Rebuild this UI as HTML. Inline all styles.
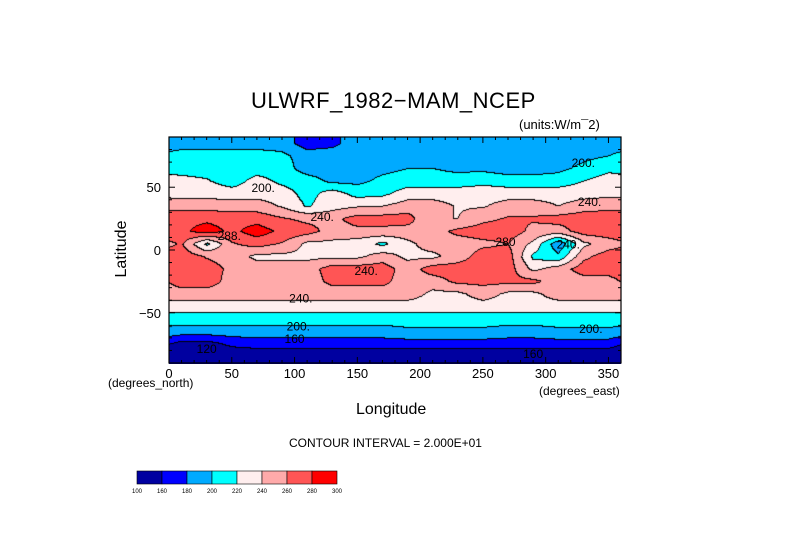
<!DOCTYPE html>
<html><head><meta charset="utf-8">
<style>
html,body{margin:0;padding:0;background:#fff;}
#wrap{position:relative;width:789px;height:558px;overflow:hidden;font-family:"Liberation Sans",sans-serif;color:#000;}
.t{position:absolute;white-space:nowrap;}
canvas{position:absolute;}
</style></head>
<body>
<div id="wrap">
<div class="t" style="left:251px;top:88px;font-size:22px;letter-spacing:0.5px;">ULWRF_1982−MAM_NCEP</div>
<div class="t" style="left:519px;top:117px;font-size:13px;">(units:W/m¯2)</div>
<canvas id="map" width="452" height="227" style="left:169px;top:137px;"></canvas>
<svg id="axes" width="789" height="558" style="position:absolute;left:0;top:0;"></svg>
<div class="t" style="left:92px;top:240px;font-size:16px;transform:rotate(-90deg);transform-origin:center;width:60px;text-align:center;">Latitude</div>
<div class="t" style="left:108px;top:376px;font-size:12px;">(degrees_north)</div>
<div class="t" style="left:539px;top:384px;font-size:12px;">(degrees_east)</div>
<div class="t" style="left:356px;top:401px;font-size:16px;">Longitude</div>
<div class="t" style="left:289px;top:436px;font-size:12px;">CONTOUR INTERVAL = 2.000E+01</div>
</div>
<script>
const levels=[160,180,200,220,240,260,280];
const colors=["#0000a0","#0000ff","#00aaff","#00ffff","#ffeeee","#ffaaaa","#ff5555","#ff0000"];
const cbLabels=["100","160","180","200","220","240","260","280","300"];
const lonCenters=[10,30,50,70,90,110,130,150,170,190,210,230,250,270,290,310,330,350];
const latCenters=[85,75,65,55,45,35,25,15,5,-5,-15,-25,-35,-45,-55,-65,-75,-85];
const r85=[190,190,190,190,190,170,175,190,190,190,190,190,190,190,190,180,190,190];
const r75=[210,210,210,210,205,190,190,190,190,190,190,190,190,190,190,190,195,200];
const r65=[210,210,210,210,210,190,190,190,195,200,200,195,195,190,190,195,205,215];
const r55=[228,222,210,228,215,210,195,195,205,210,210,210,215,210,210,210,220,230];
const r45=[232,232,230,232,230,212,230,212,215,230,230,230,230,230,230,230,232,235];
const r35=[252,252,250,250,238,218,232,238,240,250,250,238,238,250,250,240,250,252];
const r25=[275,275,272,272,262,255,255,268,268,268,240,240,255,262,262,268,272,275];
const r15=[275,290,275,290,275,268,252,255,255,252,252,265,270,270,255,250,270,272];
const r5=[262,215,258,268,258,235,235,230,215,235,250,250,255,260,235,185,235,250];
const rm5=[272,258,250,235,235,235,235,235,250,235,235,250,270,270,215,205,255,270];
const rm15=[272,270,255,250,250,250,270,270,270,250,270,270,270,270,235,250,270,270];
const rm25=[270,270,252,250,250,250,265,265,265,250,250,265,265,265,265,250,250,252];
const rm35=[250,250,250,250,250,250,250,250,250,250,235,235,250,235,235,250,250,250];
const rm45=[230,230,230,230,230,230,230,230,230,230,230,230,230,230,230,230,230,230];
const rm55=[210,210,210,210,210,210,210,210,210,210,210,210,210,210,210,210,210,210];
const rm65=[190,190,190,190,190,190,190,190,190,195,195,195,195,190,190,195,195,195];
const rm75=[150,150,165,170,170,170,170,170,170,170,170,170,170,170,170,170,170,170];
const rm85=[140,140,140,140,140,140,140,140,140,140,140,140,140,140,140,140,140,140];
const grid=[r85,r75,r65,r55,r45,r35,r25,r15,r5,rm5,rm15,rm25,rm35,rm45,rm55,rm65,rm75,rm85];

const X0=169,Y0=137,W=452,H=226;
const xs=lon=>X0+lon/360*W;
const ys=lat=>Y0+(90-lat)/180*H;

function val(lon,lat){
  let fi=(lon-10)/20; let i0=Math.floor(fi); let tx=fi-i0;
  const n=lonCenters.length;
  const a=((i0%n)+n)%n,b=(((i0+1)%n)+n)%n;
  let fj=(85-lat)/10; fj=Math.max(0,Math.min(latCenters.length-1,fj));
  let j0=Math.floor(fj); let j1=Math.min(j0+1,latCenters.length-1); let ty=fj-j0;
  const v0=grid[j0][a]*(1-tx)+grid[j0][b]*tx;
  const v1=grid[j1][a]*(1-tx)+grid[j1][b]*tx;
  return v0*(1-ty)+v1*ty;
}
function cls(v){let c=0;for(const l of levels){if(v>=l)c++;}return c;}
const cv=document.getElementById('map');const ctx=cv.getContext('2d');
const Wc=cv.width,Hc=cv.height;
const C=[];
for(let y=0;y<Hc;y++){C[y]=[];for(let x=0;x<Wc;x++){
  const lon=x/W*360, lat=90-y/H*180;
  C[y][x]=cls(val(lon,lat));}}
for(let y=0;y<Hc;y++)for(let x=0;x<Wc;x++){
  const c=C[y][x];
  const edge=(x+1<Wc&&C[y][x+1]!==c)||(y+1<Hc&&C[y+1][x]!==c);
  ctx.fillStyle=edge?"#000":colors[c];
  ctx.fillRect(x,y,1,1);
}
const NS="http://www.w3.org/2000/svg";
const svg=document.getElementById('axes');
function el(t,a){const e=document.createElementNS(NS,t);for(const k in a)e.setAttribute(k,a[k]);svg.appendChild(e);return e;}
const frame=el('rect',{x:X0,y:Y0,width:W,height:H,fill:'none',stroke:'#000','stroke-width':1.2});


for(let lon=10;lon<360;lon+=10){
  const big=lon%50===0, L=big?6:3;
  const t1=el('line',{x1:xs(lon),x2:xs(lon),y1:Y0,y2:Y0+L,stroke:'#000'});
  
  
  const t2=el('line',{x1:xs(lon),x2:xs(lon),y1:Y0+H,y2:Y0+H-L,stroke:'#000'});
  
  
}
for(let lat=-80;lat<=80;lat+=10){
  const big=lat%50===0, L=big?6:3;
  const t1=el('line',{x1:X0,x2:X0+L,y1:ys(lat),y2:ys(lat),stroke:'#000'});
  
  
  const t2=el('line',{x1:X0+W,x2:X0+W-L,y1:ys(lat),y2:ys(lat),stroke:'#000'});
  
  
}
const xTicks=[0,50,100,150,200,250,300,350];
for(const v of xTicks){
  const t=el('text',{x:xs(v),y:378,'font-size':13,'text-anchor':'middle','font-family':'Liberation Sans'});
  t.textContent=v;
  
  
}
const yTicks=[50,0,-50];
for(const v of yTicks){
  const t=el('text',{x:161,y:ys(v)+5,'font-size':13,'text-anchor':'end','font-family':'Liberation Sans'});
  t.textContent=v<0?'−'+(-v):v;
  
  
}
const cLabelText=["200.","240.","288.","240.","240.","200.","160","120","200.","240.","240.","280","200.","160"];
const cLabelLon=[75,122,48,157,105,103,100,30,330,335,318,268,336,290];
const cLabelLat=[50,27,12,-16,-38,-60,-70,-78,70,39,5,7,-62,-82];
for(let i=0;i<cLabelText.length;i++){
  const t=el('text',{x:xs(cLabelLon[i]),y:ys(cLabelLat[i])+5,'font-size':12,'text-anchor':'middle','font-family':'Liberation Sans'});
  t.textContent=cLabelText[i];
  
  
}
const cbX=137,cbY=471,cbW=25,cbH=13;
for(let i=0;i<colors.length;i++){
  const r=el('rect',{x:cbX+i*cbW,y:cbY,width:cbW,height:cbH,fill:colors[i],stroke:'#000','stroke-width':0.6});
  
  
}
for(let i=0;i<cbLabels.length;i++){
  const t=el('text',{x:cbX+i*cbW,y:493,'font-size':6,'text-anchor':'middle','font-family':'Liberation Sans'});
  t.textContent=cbLabels[i];
  
  
}
</script>
</body></html>
